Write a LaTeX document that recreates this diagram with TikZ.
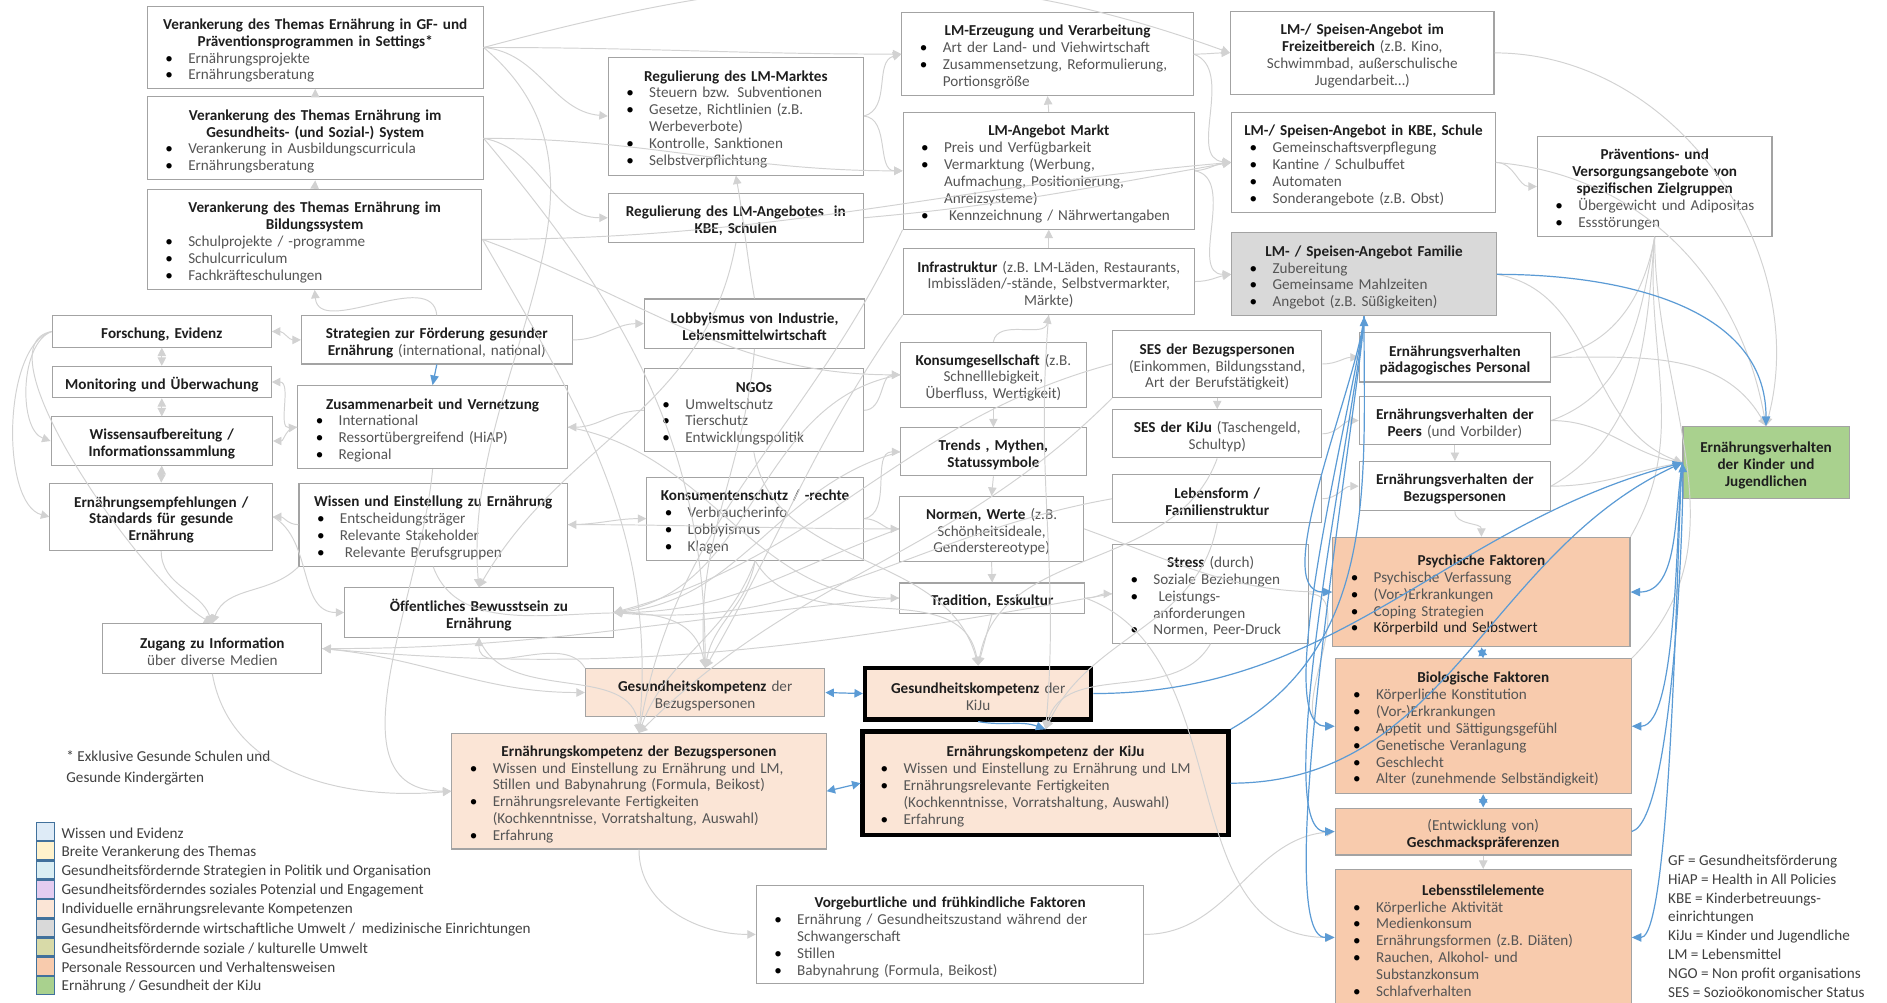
\documentclass[tikz,border=0pt]{standalone}
\usepackage{fontspec}
\setmainfont{Carlito}
\usetikzlibrary{arrows.meta}

\definecolor{tdark}{HTML}{1E1E1E}
\definecolor{tgray}{HTML}{555555}
\definecolor{ltext}{HTML}{404040}
\definecolor{bord}{HTML}{A3A3A3}
\definecolor{lgray}{HTML}{D2D2D2}
\definecolor{cblue}{HTML}{5B9BD5}
\definecolor{orng}{HTML}{F8CBAD}
\definecolor{peach}{HTML}{FBE5D6}
\definecolor{famg}{HTML}{D9D9D9}
\definecolor{grn}{HTML}{A9D18E}
\definecolor{lgbord}{HTML}{41719C}
\definecolor{lgA}{HTML}{DEEBF7}
\definecolor{lgB}{HTML}{FFF2CC}
\definecolor{lgC}{HTML}{DAEEF3}
\definecolor{lgD}{HTML}{E4CCF0}
\definecolor{lgE}{HTML}{FBE5D6}
\definecolor{lgF}{HTML}{D9D9D9}
\definecolor{lgG}{HTML}{D8DAA8}
\definecolor{lgH}{HTML}{F8CBAD}
\definecolor{lgI}{HTML}{A9D18E}

\newcommand{\fs}{\fontsize{12.6}{14}\selectfont}
% centred line, bullet line, continuation line
\newcommand{\lnc}[1]{\par\hbox to\hsize{\hss#1\hss}}
\newcommand{\lnb}[1]{\par\hbox to\hsize{\hbox to 30pt{\hskip 11pt\textcolor{black}{\textbullet}\hss}#1\hss}}
\newcommand{\lnk}[1]{\par\hbox to\hsize{\hskip 30pt#1\hss}}
\newcommand{\tb}[1]{{\bfseries\color{tdark}#1}}

% box from its corners: name, x1, y1, x2, y2, style, content
\newcommand{\bx}[7]{%
  \pgfmathsetmacro{\bxw}{#4-#2}%
  \pgfmathsetmacro{\bxh}{#5-#3}%
  \pgfmathsetmacro{\bxt}{#4-#2-8}%
  \node[box,#6,minimum width=\bxw pt,minimum height=\bxh pt,text width=\bxt pt,anchor=north west] (#1) at (#2,#3) {#7};}

\tikzset{
  box/.style={draw=bord, line width=0.9pt, fill=white, inner xsep=4pt, inner ysep=2pt, font=\fs, text=tgray},
  kbox/.style={draw=black, line width=3.6pt},
  gl/.style={draw=lgray, line width=0.8pt, -{Triangle[width=7pt,length=7pt]}},
  gld/.style={draw=lgray, line width=0.8pt, {Triangle[width=7pt,length=7pt]}-{Triangle[width=7pt,length=7pt]}},
  gln/.style={draw=lgray, line width=0.8pt},
  bl/.style={draw=cblue, line width=1pt, -{Triangle[width=7pt,length=8pt]}},
  bld/.style={draw=cblue, line width=1pt, {Triangle[width=7pt,length=7pt]}-{Triangle[width=7pt,length=7pt]}},
  lsq/.style={draw=lgbord, line width=1.1pt, minimum width=15pt, minimum height=15pt, inner sep=0pt},
  ltx/.style={anchor=west, font=\fs, text=ltext, inner sep=0pt}
}

\begin{document}
\begin{tikzpicture}[x=1pt,y=-1pt]
\fill[white] (0,0) rectangle (1568,833);
\useasboundingbox (0,0) rectangle (1568,833);

% ---------- left column ----------
\bx{A1}{122}{5}{401}{73}{}{\lnc{\tb{Verankerung des Themas Ernährung in GF- und}}\lnc{\tb{Präventionsprogrammen in Settings*}}\lnb{Ernährungsprojekte}\lnb{Ernährungsberatung}}
\bx{A2}{122}{80}{401}{149}{}{\lnc{\tb{Verankerung des Themas Ernährung im}}\lnc{\tb{Gesundheits- (und Sozial-) System}}\lnb{Verankerung in Ausbildungscurricula}\lnb{Ernährungsberatung}}
\bx{A3}{122}{157}{400}{240}{}{\lnc{\tb{Verankerung des Themas Ernährung im}}\lnc{\tb{Bildungssystem}}\lnb{Schulprojekte / -programme}\lnb{Schulcurriculum}\lnb{Fachkräfteschulungen}}
\bx{forsch}{43}{262}{225}{288}{}{\lnc{\tb{Forschung, Evidenz}}}
\bx{monit}{43}{304}{225}{330}{}{\lnc{\tb{Monitoring und Überwachung}}}
\bx{wissauf}{42}{346}{226}{386}{}{\lnc{\tb{Wissensaufbereitung /}}\lnc{\tb{Informationssammlung}}}
\bx{empf}{41}{401}{226}{457}{}{\lnc{\tb{Ernährungsempfehlungen /}}\lnc{\tb{Standards für gesunde}}\lnc{\tb{Ernährung}}}
\bx{zugang}{85}{518}{267}{559}{}{\lnc{\tb{Zugang zu Information}}\lnc{über diverse Medien}}

% ---------- second column ----------
\bx{strat}{250}{262}{475}{302}{}{\lnc{\tb{Strategien zur Förderung gesunder}}\lnc{\tb{Ernährung} (international, national)}}
\bx{zus}{247}{320}{471}{389}{}{\lnc{\tb{Zusammenarbeit und Vernetzung}}\lnb{International}\lnb{Ressortübergreifend (HiAP)}\lnb{Regional}}
\bx{wissen}{248}{401}{471}{470}{}{\lnc{\tb{Wissen und Einstellung zu Ernährung}}\lnb{Entscheidungsträger}\lnb{Relevante Stakeholder}\lnb{\ Relevante Berufsgruppen}}
\bx{oeff}{286}{488}{509}{529}{}{\lnc{\tb{Öffentliches Bewusstsein zu}}\lnc{\tb{Ernährung}}}

% ---------- third column ----------
\bx{reg1}{505}{47}{717}{145}{}{\lnc{\tb{Regulierung des LM-Marktes}}\lnb{Steuern bzw. Subventionen}\lnb{Gesetze, Richtlinien (z.B.}\lnk{Werbeverbote)}\lnb{Kontrolle, Sanktionen}\lnb{Selbstverpflichtung}}
\bx{reg2}{505}{160}{717}{201}{}{\lnc{\tb{Regulierung des LM-Angebotes\ \ in}}\lnc{\tb{KBE, Schulen}}}
\bx{lobby}{535}{248}{718}{289}{}{\lnc{\tb{Lobbyismus von Industrie,}}\lnc{\tb{Lebensmittelwirtschaft}}}
\bx{ngos}{535}{306}{717}{375}{}{\lnc{\tb{NGOs}}\lnb{Umweltschutz}\lnb{Tierschutz}\lnb{Entwicklungspolitik}}
\bx{konss}{537}{396}{717}{465}{}{\lnc{\tb{Konsumentenschutz / -rechte}}\lnb{Verbraucherinfo}\lnb{Lobbyismus}\lnb{Klagen}}

% ---------- fourth column ----------
\bx{lmerz}{749}{10}{991}{79}{}{\lnc{\tb{LM-Erzeugung und Verarbeitung}}\lnb{Art der Land- und Viehwirtschaft}\lnb{Zusammensetzung, Reformulierung,}\lnk{Portionsgröße}}
\bx{lmmarkt}{750}{93}{992}{190}{}{\lnc{\tb{LM-Angebot Markt}}\lnb{Preis und Verfügbarkeit}\lnb{Vermarktung (Werbung,}\lnk{Aufmachung, Positionierung,}\lnk{Anreizsysteme)}\lnb{\ Kennzeichnung / Nährwertangaben}}
\bx{infra}{750}{206}{992}{261}{}{\lnc{\tb{Infrastruktur} (z.B. LM-Läden, Restaurants,}\lnc{Imbissläden/-stände, Selbstvermarkter,}\lnc{Märkte)}}
\bx{konsum}{748}{284}{902}{338}{}{\lnc{\tb{Konsumgesellschaft} (z.B.}\lnc{Schnelllebigkeit,}\lnc{Überfluss, Wertigkeit)}}
\bx{trends}{748}{355}{902}{395}{}{\lnc{\tb{Trends , Mythen,}}\lnc{\tb{Statussymbole}}}
\bx{normen}{747}{412}{900}{466}{}{\lnc{\tb{Normen, Werte} (z.B.}\lnc{Schönheitsideale,}\lnc{Genderstereotype)}}
\bx{trad}{747}{484}{901}{509}{}{\lnc{\tb{Tradition, Esskultur}}}

% ---------- fifth column ----------
\bx{freiz}{1022}{9}{1241}{78}{}{\lnc{\tb{LM-/ Speisen-Angebot im}}\lnc{\tb{Freizeitbereich} (z.B. Kino,}\lnc{Schwimmbad, außerschulische}\lnc{Jugendarbeit…)}}
\bx{kbe}{1023}{93}{1242}{176}{}{\lnc{\tb{LM-/ Speisen-Angebot in KBE, Schule}}\lnb{Gemeinschaftsverpflegung}\lnb{Kantine / Schulbuffet}\lnb{Automaten}\lnb{Sonderangebote (z.B. Obst)}}
\bx{fam}{1023}{193}{1243}{262}{fill=famg}{\lnc{\tb{LM- / Speisen-Angebot Familie}}\lnb{Zubereitung}\lnb{Gemeinsame Mahlzeiten}\lnb{Angebot (z.B. Süßigkeiten)}}
\bx{praev}{1277}{113}{1472}{196}{}{\lnc{\tb{Präventions- und}}\lnc{\tb{Versorgungsangebote von}}\lnc{\tb{spezifischen Zielgruppen}}\lnb{Übergewicht und Adipositas}\lnb{Essstörungen}}
\bx{sesb}{924}{274}{1098}{330}{}{\lnc{\tb{SES der Bezugspersonen}}\lnc{(Einkommen, Bildungsstand,}\lnc{Art der Berufstätigkeit)}}
\bx{sesk}{924}{340}{1098}{380}{}{\lnc{\tb{SES der KiJu} (Taschengeld,}\lnc{Schultyp)}}
\bx{lform}{924}{394}{1098}{434}{}{\lnc{\tb{Lebensform /}}\lnc{\tb{Familienstruktur}}}
\bx{stress}{924}{452}{1087}{534}{}{\lnc{\tb{Stress} (durch)}\lnb{Soziale Beziehungen}\lnb{\ Leistungs-}\lnk{anforderungen}\lnb{Normen, Peer-Druck}}

% ---------- sixth column ----------
\bx{paed}{1129}{276}{1288}{317}{}{\lnc{\tb{Ernährungsverhalten}}\lnc{\tb{pädagogisches Personal}}}
\bx{peers}{1129}{329}{1288}{369}{}{\lnc{\tb{Ernährungsverhalten der}}\lnc{\tb{Peers} (und Vorbilder)}}
\bx{bezv}{1129}{383}{1288}{424}{}{\lnc{\tb{Ernährungsverhalten der}}\lnc{\tb{Bezugspersonen}}}
\bx{psych}{1107}{446}{1354}{537}{fill=orng}{\lnc{\tb{Psychische Faktoren}}\lnb{Psychische Verfassung}\lnb{(Vor-)Erkrankungen}\lnb{Coping Strategien}\lnb{\textcolor{tdark}{Körperbild und Selbstwert}}}
\bx{bio}{1109}{547}{1355}{659}{fill=orng}{\lnc{\tb{Biologische Faktoren}}\lnb{Körperliche Konstitution}\lnb{(Vor-)Erkrankungen}\lnb{Appetit und Sättigungsgefühl}\lnb{Genetische Veranlagung}\lnb{Geschlecht}\lnb{Alter (zunehmende Selbständigkeit)}}
\bx{gesch}{1109}{671}{1355}{710}{fill=orng}{\lnc{(Entwicklung von)}\lnc{\tb{Geschmackspräferenzen}}}
\bx{leben}{1109}{722}{1355}{835}{fill=orng}{\lnc{\tb{Lebensstilelemente}}\lnb{Körperliche Aktivität}\lnb{Medienkonsum}\lnb{Ernährungsformen (z.B. Diäten)}\lnb{Rauchen, Alkohol- und}\lnk{Substanzkonsum}\lnb{Schlafverhalten}}
\bx{green}{1398}{354}{1536}{414}{fill=grn}{\lnc{\tb{Ernährungsverhalten}}\lnc{\tb{der Kinder und}}\lnc{\tb{Jugendlichen}}}

% ---------- competences ----------
\bx{gkbez}{486}{555}{685}{595}{fill=peach}{\lnc{\tb{Gesundheitskompetenz} der}\lnc{Bezugspersonen}}
\bx{gkkiju}{717}{553}{905}{596}{fill=peach,kbox}{\lnc{\tb{Gesundheitskompetenz} der}\lnc{KiJu}}
\bx{ekbez}{375}{609}{686}{705}{fill=peach}{\lnc{\tb{Ernährungskompetenz der Bezugspersonen}}\lnb{Wissen und Einstellung zu Ernährung und LM,}\lnk{Stillen und Babynahrung (Formula, Beikost)}\lnb{Ernährungsrelevante Fertigkeiten}\lnk{(Kochkenntnisse, Vorratshaltung, Auswahl)}\lnb{Erfahrung}}
\bx{ekkiju}{715}{606}{1019}{692}{fill=peach,kbox}{\lnc{\tb{Ernährungskompetenz der KiJu}}\lnb{Wissen und Einstellung zu Ernährung und LM}\lnb{Ernährungsrelevante Fertigkeiten}\lnk{(Kochkenntnisse, Vorratshaltung, Auswahl)}\lnb{Erfahrung}}
\bx{vorgeb}{628}{735}{950}{817}{}{\lnc{\tb{Vorgeburtliche und frühkindliche Faktoren}}\lnb{Ernährung / Gesundheitszustand während der}\lnk{Schwangerschaft}\lnb{Stillen}\lnb{Babynahrung (Formula, Beikost)}}

% ---------- grey influence lines ----------
\draw[gld] (forsch.south) -- (monit.north);
\draw[gld] (monit.south) -- (wissauf.north);
\draw[gld] (wissauf.south) -- (empf.north);
\draw[gld] (forsch.east) to[out=0,in=180] (strat.west);
\draw[gld] (monit.east) to[out=0,in=185] (zus.west);
\draw[gl] (zus.west) to[out=175,in=0] (wissauf.east);
\draw[gl] (wissen.west) to[out=180,in=0] (empf.east);
\draw[gl] (forsch.west) to[out=200,in=160,looseness=0.8] (wissauf.west);
\draw[gl] (forsch.west) to[out=195,in=165,looseness=0.7] (empf.west);
\draw[gl] (forsch.west) to[out=190,in=150,looseness=0.6] (zugang.north);
\draw[gl] (empf.south) to[out=-90,in=110] (zugang.north);
\draw[gl] (wissen.south west) to[out=-135,in=70] (zugang.north);
\draw[gl] (empf.east) to[out=-30,in=180] (oeff.west);
\draw[gl] (zugang.south) to[out=-80,in=185] (ekbez.west);
\draw[gl] (zugang.east) to[out=-5,in=180] (gkbez.west);
\draw[gl] (zus.south) to[out=-95,in=180] (ekbez.west);
\draw[gl] (ekbez.south) to[out=-90,in=180] (vorgeb.west);
\draw[gl] (vorgeb.east) to[out=0,in=185] (gesch.west);

\draw[gl] (A3.north) -- (A2.south);
\draw[gl] (A2.north) -- (A1.south);
\draw[gl] (strat.north) to[out=95,in=-85] (A3.south);
\draw[gl] (A1.east) to[out=0,in=180] (lmerz.west);
\draw[gl] (A1.east) to[out=-5,in=175] (reg1.west);
\draw[gl] (A1.east) to[out=15,in=160] (freiz.west);
\draw[gl] (A2.east) to[out=0,in=180] (lmmarkt.west);
\draw[gl] (A2.east) to[out=-10,in=180] (reg2.west);
\draw[gl] (A3.east) to[out=0,in=185] (kbe.west);
\draw[gl] (A1.east) to[out=-40,in=95] (oeff.north);
\draw[gl] (A2.east) to[out=-50,in=90] (gkbez.north);
\draw[gl] (A3.east) to[out=-60,in=85] (ekbez.north);
\draw[gl] (A3.east) to[out=-20,in=180] (konsum.west);

\draw[gl] (lobby.north) to[out=100,in=-80] (reg1.south);
\draw[gl] (reg1.east) to[out=15,in=195] (lmerz.west);
\draw[gl] (reg2.east) to[out=5,in=190] (kbe.west);
\draw[gl] (reg1.east) to[out=-5,in=180] (lmmarkt.west);
\draw[gl] (ngos.west) to[out=180,in=0] (zus.east);
\draw[gl] (strat.east) to[out=0,in=180] (lobby.west);
\draw[gl] (wissen.east) to[out=0,in=180] (konss.west);
\draw[gl] (normen.west) to[out=180,in=0] (wissen.east);
\draw[gl] (ngos.east) to[out=0,in=180] (konsum.west);
\draw[gl] (konss.east) to[out=10,in=180] (trends.west);
\draw[gl] (konss.east) to[out=0,in=180] (normen.west);
\draw[gl] (zus.east) to[out=-10,in=180] (trad.west);
\draw[gl] (konsum.south) -- (trends.north);
\draw[gl] (trends.south) -- (normen.north);
\draw[gl] (normen.south) -- (trad.north);
\draw[gl] (infra.north) -- (lmmarkt.south);
\draw[gl] (lmmarkt.north) -- (lmerz.south);
\draw[gl] (konsum.north) to[out=80,in=-100] (infra.south);
\draw[gl] (lmerz.east) to[out=0,in=180] (freiz.west);
\draw[gl] (lmmarkt.east) to[out=5,in=185] (kbe.west);
\draw[gl] (lmmarkt.east) to[out=-10,in=180] (fam.west);
\draw[gl] (infra.east) to[out=0,in=190] (fam.west);
\draw[gl] (lmerz.east) to[out=-20,in=175] (kbe.west);
\draw[gl] (kbe.east) to[out=0,in=180] (praev.west);
\draw[gl] (freiz.east) to[out=0,in=75] (green.north);
\draw[gl] (kbe.east) to[out=-5,in=100] (green.north);
\draw[gl] (fam.east) to[out=-10,in=160] (green.west);

\draw[gln] (praev.south) to[out=-100,in=10] (paed.east);
\draw[gln] (praev.south) to[out=-100,in=20] (peers.east);
\draw[gln] (praev.south) to[out=-95,in=30] (bezv.east);
\draw[gln] (praev.south) to[out=-95,in=60] (psych.north east);
\draw[gln] (praev.south) to[out=-90,in=45] (bio.north east);

\draw[gl] (sesb.south) -- (sesk.north);
\draw[gl] (sesb.east) to[out=0,in=180] (paed.west);
\draw[gl] (sesk.east) to[out=0,in=180] (peers.west);
\draw[gl] (lform.east) to[out=0,in=180] (bezv.west);
\draw[gl] (peers.south) -- (bezv.north);
\draw[gl] (bezv.south) to[out=-90,in=90] (psych.north);
\draw[gl] (gesch.south) -- (leben.north);
\draw[gl] (stress.east) to[out=0,in=180] (bio.west);
\draw[gl] (trad.east) to[out=0,in=180] (stress.west);
\draw[gl] (paed.east) to[out=0,in=120] (green.north);
\draw[gl] (peers.east) to[out=0,in=170] (green.west);
\draw[gl] (bezv.east) to[out=0,in=190] (green.west);
\draw[gl] (trad.east) to[out=-20,in=180] (leben.west);

\draw[gl] (konsum.west) to[out=190,in=10] (oeff.east);
\draw[gl] (trends.west) to[out=195,in=5] (oeff.east);
\draw[gl] (normen.west) to[out=200,in=0] (oeff.east);
\draw[gl] (sesb.west) to[out=195,in=15] (oeff.east);
\draw[gl] (lform.west) to[out=190,in=-5] (oeff.east);
\draw[gl] (trad.west) to[out=185,in=0] (zugang.east);
\draw[gl] (stress.west) to[out=190,in=-5] (zugang.east);
\draw[gl] (gkbez.north west) to[out=120,in=-90] (oeff.south);
\draw[gl] (wissen.south) to[out=-70,in=100] (gkbez.north);
\draw[gl] (konss.south) to[out=-100,in=80] (gkbez.north);
\draw[gl] (oeff.south) to[out=-70,in=95] (ekbez.north);
\draw[gl] (konss.south) to[out=-110,in=70] (ekbez.north);
\draw[gl] (konss.south) to[out=-60,in=100] (gkkiju.north);
\draw[gl] (sesk.south) to[out=-110,in=80] (gkkiju.north);
\draw[gl] (trad.south) -- (gkkiju.north);
\draw[gl] (stress.south) to[out=-120,in=75] (ekkiju.north);
\draw[gl] (lform.south) to[out=-100,in=65] (ekkiju.north);
\draw[gl] (infra.south) to[out=-95,in=85] (ekkiju.north);
\draw[gl] (lobby.south) to[out=-95,in=95] (gkbez.north);
\draw[gl] (ngos.south) to[out=-80,in=105] (gkkiju.north);
\draw[gl] (reg2.south) to[out=-100,in=60] (oeff.north);
\draw[gl] (lmmarkt.south west) to[out=-115,in=80] (ekbez.north);
\draw[gl] (infra.south west) to[out=-125,in=60] (gkbez.north);
\draw[gl] (sesb.south west) to[out=-135,in=45] (ekbez.north);
\draw[gl] (normen.east) to[out=-20,in=180] (psych.west);

% ---------- blue links to eating behaviour ----------
\draw[bl] (fam.east) to[out=0,in=90] (green.north);
\draw[bl] (gkkiju.east) to[out=0,in=195] (green.west);
\draw[bl] (ekkiju.east) to[out=0,in=205] (green.west);
\draw[bl] (fam.south) to[out=-95,in=180,looseness=0.6] (psych.west);
\draw[bl] (fam.south) to[out=-95,in=180,looseness=0.42] (bio.west);
\draw[bl] (fam.south) to[out=-93,in=180,looseness=0.34] (gesch.west);
\draw[bl] (fam.south) to[out=-92,in=180,looseness=0.28] (leben.west);
\draw[bl] (ekkiju.north east) to[out=30,in=-90] (fam.south);
\draw[bl] (green.west) to[out=-100,in=0,looseness=0.9] (psych.east);
\draw[bl] (green.west) to[out=-98,in=0,looseness=0.45] (bio.east);
\draw[bl] (green.west) to[out=-97,in=0,looseness=0.22] (leben.east);
\draw[bl] (gesch.east) to[out=15,in=-88,looseness=0.3] (green.west);
\draw[bld] (psych.south) -- (bio.north);
\draw[bld] (bio.south) -- (gesch.north);
\draw[bld] (gkbez.east) -- (gkkiju.west);
\draw[bld] (ekbez.east) -- (ekkiju.west);
\draw[bl] (gkkiju.south) to[out=-10,in=160] (ekkiju.north);
\draw[bl] (strat.south) -- (zus.north);

% ---------- footnote ----------
\node[anchor=north west, align=left, font=\fontsize{12.6}{17}\selectfont, text=ltext, inner sep=0pt] (fnote) at (55,624) {* Exklusive Gesunde Schulen und\\Gesunde Kindergärten};

% ---------- legend ----------
\node[lsq, fill=lgA] (lq1) at (38,691) {};
\node[lsq, fill=lgB] (lq2) at (38,707) {};
\node[lsq, fill=lgC] (lq3) at (38,723) {};
\node[lsq, fill=lgD] (lq4) at (38,739) {};
\node[lsq, fill=lgE] (lq5) at (38,755) {};
\node[lsq, fill=lgF] (lq6) at (38,771) {};
\node[lsq, fill=lgG] (lq7) at (38,787) {};
\node[lsq, fill=lgH] (lq8) at (38,803) {};
\node[lsq, fill=lgI] (lq9) at (38,819) {};
\node[ltx] (lt1) at (51,692) {Wissen und Evidenz};
\node[ltx] (lt2) at (51,708) {Breite Verankerung des Themas};
\node[ltx] (lt3) at (51,724) {Gesundheitsfördernde Strategien in Politik und Organisation};
\node[ltx] (lt4) at (51,740) {Gesundheitsförderndes soziales Potenzial und Engagement};
\node[ltx] (lt5) at (51,756) {Individuelle ernährungsrelevante Kompetenzen};
\node[ltx] (lt6) at (51,772) {Gesundheitsfördernde wirtschaftliche Umwelt /\ \ medizinische Einrichtungen};
\node[ltx] (lt7) at (51,788) {Gesundheitsfördernde soziale / kulturelle Umwelt};
\node[ltx] (lt8) at (51,804) {Personale Ressourcen und Verhaltensweisen};
\node[ltx] (lt9) at (51,820) {Ernährung / Gesundheit der KiJu};

% ---------- abbreviations ----------
\node[anchor=north west, align=left, font=\fontsize{12.6}{15.7}\selectfont, text=ltext, inner sep=0pt] (abbr) at (1386,710)
  {GF = Gesundheitsförderung\\HiAP = Health in All Policies\\KBE = Kinderbetreuungs-\\einrichtungen\\KiJu = Kinder und Jugendliche\\LM = Lebensmittel\\NGO = Non profit organisations\\SES = Sozioökonomischer Status};
\end{tikzpicture}
\end{document}
